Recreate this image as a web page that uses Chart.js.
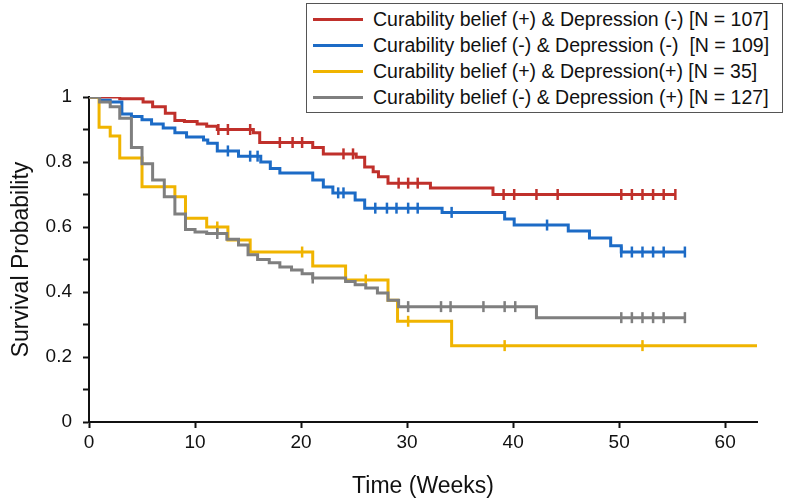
<!DOCTYPE html>
<html>
<head>
<meta charset="utf-8">
<script src="https://cdn.jsdelivr.net/npm/chart.js@4"></script>
<style>
  html, body { margin: 0; padding: 0; background: #fff; }
  #wrap { position: relative; width: 787px; height: 499px; }
  #legend {
    position: absolute; left: 306px; top: 3px; width: 475px; height: 108px;
    border: 1px solid #555; background: #fff;
    font-family: "Liberation Sans", Arial, sans-serif; font-size: 19.5px; color: #111;
  }
  .row { position: absolute; left: 0; width: 100%; height: 26px; }
  .sw { position: absolute; left: 6px; top: 12px; width: 50px; height: 3px; }
  .lab { position: absolute; left: 66px; top: 2px; line-height: 22px; white-space: pre; }
</style>
</head>
<body>
<div id="wrap">
  <canvas id="km" width="787" height="499"></canvas>
  <div id="legend"></div>
</div>
<script>
// group labels and colours
var groupLabels = [
    "Curability belief (+) & Depression (-) [N = 107]",
    "Curability belief (-) & Depression (-)  [N = 109]",
    "Curability belief (+) & Depression(+) [N = 35]",
    "Curability belief (-) & Depression (+) [N = 127]",
];
var groupColors = ["#C0302B", "#1C6BC6", "#F0B400", "#7F7F7F"];

// Kaplan-Meier steps: time (weeks) and survival after that time
var redTimes = [0, 2.9, 5.1, 6.0, 7.2, 8.1, 9.0, 10.2, 11.1, 12.1, 15.5, 16.1, 21.1, 22.1, 25.2, 26.0, 26.8, 27.3, 28.2, 32.2, 38.1, 55.3];
var redSurv  = [1, 0.995, 0.985, 0.97, 0.95, 0.928, 0.925, 0.917, 0.91, 0.9, 0.89, 0.86, 0.845, 0.825, 0.815, 0.785, 0.77, 0.755, 0.735, 0.72, 0.70, 0.70];
var redCensor = [12.2, 13.1, 15.2, 18.0, 19.2, 20.1, 24.0, 24.9, 29.2, 30.1, 31.0, 39.1, 40.1, 42.2, 44.2, 50.2, 51.2, 52.2, 53.2, 54.2, 55.3];

var blueTimes = [0, 1.0, 2.0, 3.1, 4.0, 5.0, 5.9, 7.0, 8.1, 9.2, 10.8, 11.2, 12.1, 14.1, 16.2, 17.1, 18.0, 21.1, 22.1, 23.0, 25.1, 26.0, 33.3, 39.2, 40.1, 45.2, 47.2, 49.2, 50.2, 56.2];
var blueSurv  = [1, 0.99, 0.985, 0.948, 0.94, 0.93, 0.917, 0.905, 0.89, 0.877, 0.868, 0.858, 0.834, 0.818, 0.80, 0.78, 0.766, 0.745, 0.723, 0.705, 0.683, 0.658, 0.645, 0.625, 0.606, 0.588, 0.566, 0.542, 0.523, 0.523];
var blueCensor = [13.1, 15.2, 15.9, 23.5, 24.0, 27.0, 28.1, 29.0, 30.1, 31.0, 34.2, 43.2, 50.2, 51.2, 52.2, 53.2, 54.2, 56.2];

var yellowTimes = [0, 0.95, 2.0, 2.9, 5.0, 8.1, 9.1, 11.1, 13.1, 15.2, 21.1, 24.2, 28.2, 29.1, 34.2, 63.2];
var yellowSurv  = [1, 0.907, 0.88, 0.812, 0.724, 0.693, 0.627, 0.60, 0.56, 0.523, 0.48, 0.437, 0.375, 0.31, 0.235, 0.235];
var yellowCensor = [12.1, 20.1, 26.1, 30.1, 39.2, 52.2, 63.2];

var grayTimes = [0, 1.0, 2.0, 2.9, 4.0, 5.0, 6.0, 7.1, 8.1, 9.1, 10.0, 11.1, 13.0, 14.1, 15.0, 15.9, 17.0, 18.0, 19.1, 20.1, 21.1, 24.2, 25.1, 26.1, 27.2, 28.2, 29.2, 42.2, 56.2];
var graySurv  = [1, 0.985, 0.97, 0.935, 0.845, 0.795, 0.745, 0.693, 0.64, 0.592, 0.585, 0.58, 0.562, 0.545, 0.515, 0.50, 0.49, 0.477, 0.468, 0.456, 0.443, 0.432, 0.422, 0.412, 0.397, 0.375, 0.355, 0.321, 0.321];
var grayCensor = [12.1, 21.1, 30.1, 33.2, 34.1, 37.2, 39.2, 40.2, 50.2, 51.2, 52.2, 53.2, 54.2, 56.2];

var xTicksStep = 10;
var yTicksStep = 0.1;

var curves = [
    [redTimes, redSurv, redCensor],
    [blueTimes, blueSurv, blueCensor],
    [yellowTimes, yellowSurv, yellowCensor],
    [grayTimes, graySurv, grayCensor],
];

function survAt(times, surv, t) {
    var s = surv[0];
    for (var i = 0; i < times.length; i++) {
        if (times[i] <= t) s = surv[i];
    }
    return s;
}

var datasets = [];
curves.forEach(function (c, i) {
    datasets.push({
        label: groupLabels[i],
        data: c[0].map(function (t, j) { return { x: t, y: c[1][j] }; }),
        borderColor: groupColors[i],
        borderWidth: 3,
        stepped: true,
        pointRadius: 0,
        fill: false,
        order: 10 - i,
    });
    datasets.push({
        label: "censored " + i,
        data: c[2].map(function (t) { return { x: t, y: survAt(c[0], c[1], t) }; }),
        showLine: false,
        pointStyle: "line",
        rotation: 90,
        pointRadius: 5.5,
        pointBorderWidth: 2.5,
        pointBorderColor: groupColors[i],
        pointBackgroundColor: groupColors[i],
        order: 10 - i,
    });
});

var font = "'Liberation Sans', Arial, sans-serif";

new Chart(document.getElementById("km").getContext("2d"), {
    type: "line",
    data: { datasets: datasets },
    options: {
        responsive: false,
        animation: false,
        layout: { padding: { left: 0, right: 30, top: 97, bottom: 0 } },
        plugins: {
            legend: { display: false },
            tooltip: { enabled: false },
        },
        scales: {
            x: {
                type: "linear",
                min: 0,
                max: 63,
                grid: { drawOnChartArea: false, drawTicks: true, tickLength: 6, tickWidth: 2, color: "#111" },
                border: { display: true, color: "#111", width: 2 },
                ticks: { stepSize: xTicksStep, includeBounds: false, padding: 3, color: "#111", font: { family: font, size: 19 } },
                title: { display: true, text: "Time (Weeks)", color: "#111", font: { family: font, size: 23, lineHeight: 1 }, padding: { top: 0, bottom: 1 } },
                afterFit: function (s) { s.height = 77; },
            },
            y: {
                min: 0,
                max: 1,
                grid: { drawOnChartArea: false, drawTicks: true, tickLength: 6, tickWidth: 2, color: "#111" },
                border: { display: true, color: "#111", width: 2 },
                ticks: {
                    stepSize: yTicksStep,
                    padding: 11,
                    color: "#111",
                    font: { family: font, size: 19 },
                    callback: function (v) {
                        var k = Math.round(v * 10);
                        return k % 2 === 0 ? String(k / 10) : "";
                    },
                },
                title: { display: true, text: "Survival Probability", color: "#111", font: { family: font, size: 23, lineHeight: 1 }, padding: { top: 10, bottom: 0 } },
                afterFit: function (s) { s.width = 89; },
            },
        },
    },
});

// legend box (top right)
var legend = document.getElementById("legend");
groupLabels.forEach(function (lab, i) {
    var row = document.createElement("div");
    row.className = "row";
    row.style.top = (2 + 26 * i) + "px";
    row.innerHTML = '<div class="sw" style="background:' + groupColors[i] + '"></div><div class="lab"></div>';
    row.querySelector(".lab").textContent = lab;
    legend.appendChild(row);
});
</script>
</body>
</html>
